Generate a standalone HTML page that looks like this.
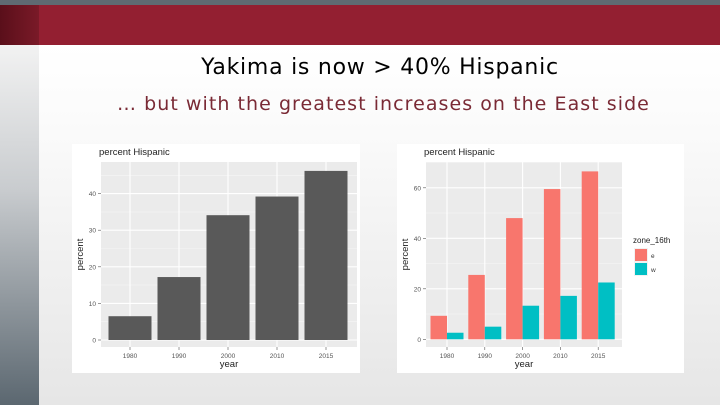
<!DOCTYPE html>
<html><head><meta charset="utf-8">
<style>
html,body{margin:0;padding:0;}
body{width:720px;height:405px;position:relative;overflow:hidden;font-family:"Liberation Sans",sans-serif;background:linear-gradient(#ffffff 45px,#fbfbfb 120px,#e6e6e6 405px);}
#topbar{position:absolute;left:0;top:0;width:720px;height:5px;background:#5f6a72;}
#band{position:absolute;left:0;top:5px;width:720px;height:40px;background:#931f31;}
#bandleft{position:absolute;left:0;top:5px;width:39px;height:40px;background:linear-gradient(90deg,#5a0f1a,#7a1a28);}
#side{position:absolute;left:0;top:45px;width:39px;height:360px;background:linear-gradient(#f2f2f2,#c9cccf 40%,#5b6770);}
#title{position:absolute;left:0;width:760px;top:55px;text-align:center;font-family:"DejaVu Sans",sans-serif;font-size:22px;color:#000;letter-spacing:0.75px;}
#sub{position:absolute;left:117px;top:93px;font-family:"DejaVu Sans",sans-serif;font-size:19px;color:#7a2a35;letter-spacing:1.05px;}
.panel{position:absolute;background:#fff;}
</style></head><body>
<div id="topbar"></div>
<div id="band"></div>
<div id="bandleft"></div>
<div id="side"></div>
<div id="title">Yakima is now &gt; 40% Hispanic</div>
<div id="sub">… but with the greatest increases on the East side</div>
<svg class="panel" style="left:72px;top:144px" width="288" height="229" id="c1"></svg>
<svg class="panel" style="left:397px;top:144px" width="287" height="229" id="c2"></svg>
<script>
const years=["1980","1990","2000","2010","2015"];
const total=[6.5,17.2,34.1,39.2,46.2];
const ticks1=[0,10,20,30,40];
const eastVals=[9.3,25.5,48,59.5,66.5];
const westVals=[2.6,5,13.3,17.2,22.5];
const ticks2=[0,20,40,60];
const NS="http://www.w3.org/2000/svg";
function mk(p,t,a){const e=document.createElementNS(NS,t);for(const k in a)e.setAttribute(k,a[k]);p.appendChild(e);return e;}
function chart(svg,o){
  const bg=mk(svg,'rect',{x:o.l,y:o.t,width:o.r-o.l,height:o.b-o.t,fill:'#ebebeb'});
  
  
  const y=v=>o.y0-v*o.s;
  for(let i=0;i<o.ticks.length-1;i++){const m=(o.ticks[i]+o.ticks[i+1])/2;mk(svg,'line',{x1:o.l,x2:o.r,y1:y(m),y2:y(m),stroke:'#f5f5f5','stroke-width':0.6});}
  const last=o.ticks[o.ticks.length-1]+(o.ticks[1]-o.ticks[0])/2;
  if(y(last)>o.t)mk(svg,'line',{x1:o.l,x2:o.r,y1:y(last),y2:y(last),stroke:'#f5f5f5','stroke-width':0.6});
  o.ticks.forEach(v=>{
    mk(svg,'line',{x1:o.l,x2:o.r,y1:y(v),y2:y(v),stroke:'#fff','stroke-width':1.1});
    mk(svg,'line',{x1:o.l-3,x2:o.l,y1:y(v),y2:y(v),stroke:'#555','stroke-width':0.6});
    const t=mk(svg,'text',{x:o.l-5,y:y(v)+2.5,'text-anchor':'end','font-size':6.5,fill:'#555'});t.textContent=v;
    
    
  });
  years.forEach((yr,i)=>{
    const cx=o.xc(i);
    mk(svg,'line',{x1:cx,x2:cx,y1:o.t,y2:o.b,stroke:'#fff','stroke-width':1.1});
    mk(svg,'line',{x1:cx,x2:cx,y1:o.b,y2:o.b+3,stroke:'#555','stroke-width':0.6});
    const t=mk(svg,'text',{x:cx,y:o.b+11,'text-anchor':'middle','font-size':6.5,fill:'#555'});t.textContent=yr;
    
    
  });
  const tt=mk(svg,'text',{x:o.l-2,y:11,'font-size':9.5,fill:'#222'});tt.textContent='percent Hispanic';
  
  
  const xt=mk(svg,'text',{x:(o.l+o.r)/2,y:223,'text-anchor':'middle','font-size':9.5,fill:'#222'});xt.textContent='year';
  
  
  const yt=mk(svg,'text',{x:0,y:0,'text-anchor':'middle','font-size':9.5,fill:'#222',transform:`translate(11,${(o.t+o.b)/2}) rotate(-90)`});yt.textContent='percent';
  
  
  return y;
}
const s1=document.getElementById('c1');
const o1={l:29,t:18,r:285,b:203,y0:196,s:3.66,ticks:ticks1,xc:i=>58+i*49};
const y1=chart(s1,o1);
total.forEach((v,i)=>{
  const r=mk(s1,'rect',{x:o1.xc(i)-21.5,y:y1(v),width:43,height:v*o1.s,fill:'#595959'});
  
  
});
const s2=document.getElementById('c2');
const o2={l:29,t:18,r:225,b:203,y0:195.3,s:2.525,ticks:ticks2,xc:i=>50+i*37.8};
const y2=chart(s2,o2);
years.forEach((yr,i)=>{
  const cx=o2.xc(i);
  const a=mk(s2,'rect',{x:cx-16.5,y:y2(eastVals[i]),width:16.5,height:eastVals[i]*o2.s,fill:'#f8766d'});
  
  
  const b=mk(s2,'rect',{x:cx,y:y2(westVals[i]),width:16.5,height:westVals[i]*o2.s,fill:'#00bfc4'});
  
  
});
const lg=mk(s2,'g',{});


const lt=mk(lg,'text',{x:236,y:99,'font-size':8,fill:'#222'});lt.textContent='zone_16th';
[['e','#f8766d'],['w','#00bfc4']].forEach((d,i)=>{
  const g=mk(lg,'g',{});
  
  
  mk(g,'rect',{x:237,y:104+i*14,width:14,height:14,fill:'#f2f2f2'});
  mk(g,'rect',{x:238,y:105+i*14,width:12,height:12,fill:d[1]});
  const t=mk(g,'text',{x:254,y:114+i*14,'font-size':6.5,fill:'#333'});t.textContent=d[0];
});
</script>
</body></html>
